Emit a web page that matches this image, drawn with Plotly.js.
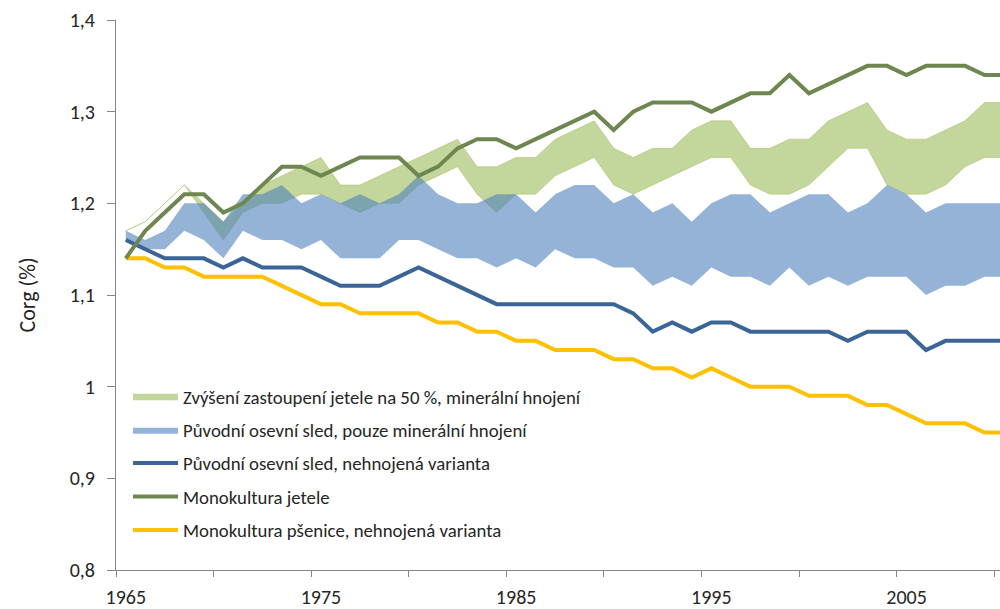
<!DOCTYPE html>
<html>
<head>
<meta charset="utf-8">
<script src="https://cdn.plot.ly/plotly-3.0.1.min.js"></script>
<style>html,body{margin:0;padding:0;background:#fff;}#chart{width:1000px;height:609px;}</style>
</head>
<body>
<div id="chart"></div>
<script>
const years = [1965,1966,1967,1968,1969,1970,1971,1972,1973,1974,
               1975,1976,1977,1978,1979,1980,1981,1982,1983,1984,
               1985,1986,1987,1988,1989,1990,1991,1992,1993,1994,
               1995,1996,1997,1998,1999,2000,2001,2002,2003,2004,
               2005,2006,2007,2008,2009,2010];

const cloverUpper = [1.17,1.18,1.20,1.22,1.20,1.18,1.20,1.22,1.23,1.24,
                     1.25,1.22,1.22,1.23,1.24,1.25,1.26,1.27,1.24,1.24,
                     1.25,1.25,1.27,1.28,1.29,1.26,1.25,1.26,1.26,1.28,
                     1.29,1.29,1.26,1.26,1.27,1.27,1.29,1.30,1.31,1.28,
                     1.27,1.27,1.28,1.29,1.31,1.31];
const cloverLower = [1.17,1.18,1.20,1.22,1.19,1.16,1.19,1.20,1.20,1.21,
                     1.21,1.20,1.19,1.20,1.20,1.22,1.23,1.24,1.21,1.19,
                     1.21,1.21,1.23,1.24,1.25,1.22,1.21,1.22,1.23,1.24,
                     1.25,1.25,1.22,1.21,1.21,1.22,1.24,1.26,1.26,1.22,
                     1.21,1.21,1.22,1.24,1.25,1.25];

const mineralUpper = [1.17,1.16,1.17,1.20,1.20,1.18,1.21,1.21,1.22,1.20,
                      1.21,1.20,1.21,1.20,1.21,1.23,1.21,1.20,1.20,1.21,
                      1.21,1.19,1.21,1.22,1.22,1.20,1.21,1.19,1.20,1.18,
                      1.20,1.21,1.21,1.19,1.20,1.21,1.21,1.19,1.20,1.22,
                      1.21,1.19,1.20,1.20,1.20,1.20];
const mineralLower = [1.16,1.15,1.15,1.17,1.16,1.14,1.17,1.16,1.16,1.15,
                      1.16,1.14,1.14,1.14,1.16,1.16,1.15,1.14,1.14,1.13,
                      1.14,1.13,1.15,1.14,1.14,1.13,1.13,1.11,1.12,1.11,
                      1.13,1.12,1.12,1.11,1.13,1.11,1.12,1.11,1.12,1.12,
                      1.12,1.10,1.11,1.11,1.12,1.12];

const unfertilized = [1.16,1.15,1.14,1.14,1.14,1.13,1.14,1.13,1.13,1.13,
                      1.12,1.11,1.11,1.11,1.12,1.13,1.12,1.11,1.10,1.09,
                      1.09,1.09,1.09,1.09,1.09,1.09,1.08,1.06,1.07,1.06,
                      1.07,1.07,1.06,1.06,1.06,1.06,1.06,1.05,1.06,1.06,
                      1.06,1.04,1.05,1.05,1.05,1.05];

const cloverMono = [1.14,1.17,1.19,1.21,1.21,1.19,1.20,1.22,1.24,1.24,
                    1.23,1.24,1.25,1.25,1.25,1.23,1.24,1.26,1.27,1.27,
                    1.26,1.27,1.28,1.29,1.30,1.28,1.30,1.31,1.31,1.31,
                    1.30,1.31,1.32,1.32,1.34,1.32,1.33,1.34,1.35,1.35,
                    1.34,1.35,1.35,1.35,1.34,1.34];

const wheatMono = [1.14,1.14,1.13,1.13,1.12,1.12,1.12,1.12,1.11,1.10,
                   1.09,1.09,1.08,1.08,1.08,1.08,1.07,1.07,1.06,1.06,
                   1.05,1.05,1.04,1.04,1.04,1.03,1.03,1.02,1.02,1.01,
                   1.02,1.01,1.00,1.00,1.00,0.99,0.99,0.99,0.98,0.98,
                   0.97,0.96,0.96,0.96,0.95,0.95];

const names = [
  'Zvýšení zastoupení jetele na 50 %, minerální hnojení',
  'Původní osevní sled, pouze minerální hnojení',
  'Původní osevní sled, nehnojená varianta',
  'Monokultura jetele',
  'Monokultura pšenice, nehnojená varianta'
];
const xLabelYears = [1965, 1975, 1985, 1995, 2005];
const boundaryTicks = [1964.5,1969.5,1974.5,1979.5,1984.5,1989.5,1994.5,1999.5,2004.5,2009.5];

const FONT = 'Carlito, Lato, "Open Sans", sans-serif';
const greenFill = 'rgba(155,187,89,0.6)';
const blueFill = 'rgba(79,129,189,0.6)';

const traces = [
  {x: years, y: cloverLower, type: 'scatter', mode: 'lines', line: {width: 1, color: 'rgba(155,187,89,0.45)'},
   showlegend: false, legendgroup: 'g1', hoverinfo: 'skip'},
  {x: years, y: cloverUpper, type: 'scatter', mode: 'lines', fill: 'tonexty', fillcolor: greenFill,
   line: {width: 1, color: 'rgba(155,187,89,0.45)'}, name: names[0], legendgroup: 'g1', legendrank: 1},
  {x: years, y: mineralLower, type: 'scatter', mode: 'lines', line: {width: 0, color: blueFill},
   showlegend: false, legendgroup: 'g2', hoverinfo: 'skip'},
  {x: years, y: mineralUpper, type: 'scatter', mode: 'lines', fill: 'tonexty', fillcolor: blueFill,
   line: {width: 0, color: blueFill}, name: names[1], legendgroup: 'g2', legendrank: 2},
  {x: years, y: wheatMono, type: 'scatter', mode: 'lines', line: {width: 4, color: '#FFC000'},
   name: names[4], legendgroup: 'g5', legendrank: 5},
  {x: years, y: unfertilized, type: 'scatter', mode: 'lines', line: {width: 4, color: '#3A6596'},
   name: names[2], legendgroup: 'g3', legendrank: 3},
  {x: years, y: cloverMono, type: 'scatter', mode: 'lines', line: {width: 4, color: '#6E8750'},
   name: names[3], legendgroup: 'g4', legendrank: 4}
];

const layout = {
  width: 1000, height: 609,
  margin: {l: 116, r: 0, t: 20, b: 39},
  paper_bgcolor: '#fff', plot_bgcolor: '#fff',
  separators: ', ',
  font: {family: FONT, color: '#262626', size: 18},
  showlegend: true,
  legend: {
    x: 0.0136, xanchor: 'left', y: 0.35, yanchor: 'top',
    bgcolor: 'rgba(0,0,0,0)', borderwidth: 0,
    font: {family: FONT, size: 18.8, color: '#262626'},
    traceorder: 'grouped', tracegroupgap: 6, itemwidth: 45
  },
  xaxis: {
    range: [1964.5, 2009.79],
    tickmode: 'array', tickvals: xLabelYears, ticktext: xLabelYears.map(String),
    ticks: 'outside', ticklen: 0, tickcolor: '#868686',
    ticklabelstandoff: 9,
    minor: {tickmode: 'array', tickvals: boundaryTicks, ticks: 'outside', ticklen: 6, tickcolor: '#868686', tickwidth: 1, showgrid: false},
    showline: true, linecolor: '#868686', linewidth: 1,
    showgrid: false, zeroline: false,
    tickfont: {family: FONT, size: 20, color: '#262626'}
  },
  yaxis: {
    range: [0.8, 1.4], dtick: 0.1, tick0: 0.8,
    ticks: 'outside', ticklen: 8, tickcolor: '#868686', tickwidth: 1,
    ticklabelstandoff: 8,
    showline: true, linecolor: '#868686', linewidth: 1,
    showgrid: false, zeroline: false,
    tickfont: {family: FONT, size: 20, color: '#262626'},
    title: {text: 'Corg (%)', font: {family: FONT, size: 22, color: '#262626'}, standoff: 28}
  }
};

Plotly.newPlot('chart', traces, layout, {displayModeBar: false, staticPlot: true});
</script>
</body>
</html>
